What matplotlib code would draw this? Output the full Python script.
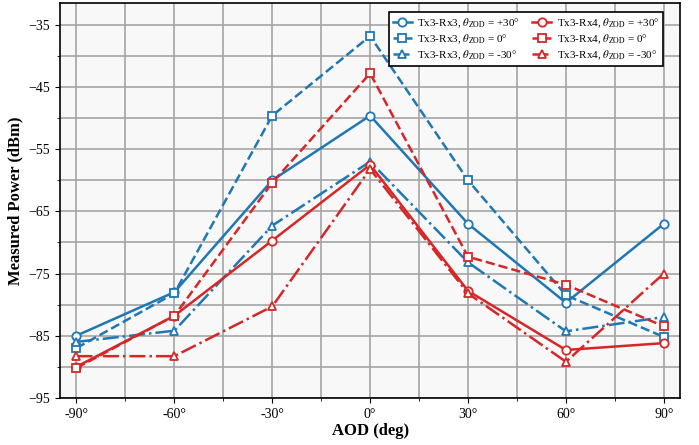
import matplotlib
matplotlib.use("Agg")
import matplotlib.pyplot as plt
from matplotlib.ticker import MultipleLocator

plt.rcParams['font.family'] = ['Liberation Serif', 'DejaVu Serif']
plt.rcParams['mathtext.fontset'] = 'stix'

aod = [-90, -60, -30, 0, 30, 60, 90]
rx3_p30 = [-85.0, -78.0, -60.0, -49.6, -67.0, -79.7, -67.0]
rx3_0 = [-87.0, -78.2, -49.6, -36.8, -60.0, -78.5, -85.2]
rx3_m30 = [-86.0, -84.2, -67.3, -57.0, -73.2, -84.3, -82.0]
rx4_p30 = [-90.0, -81.8, -69.7, -57.5, -77.8, -87.3, -86.2]
rx4_0 = [-90.2, -81.8, -60.4, -42.8, -72.3, -76.8, -83.5]
rx4_m30 = [-88.3, -88.3, -80.3, -58.2, -78.2, -89.2, -75.0]

xtick_vals = [-90, -60, -30, 0, 30, 60, 90]
xtick_labels = ['-90°', '-60°', '-30°', '0°', '30°', '60°', '90°']

blue = '#1f77b4'
red = '#d62728'

fig = plt.figure(figsize=(6.99, 4.45), dpi=100)
ax = fig.add_axes([0.086, 0.106, 0.887, 0.887])
ax.set_facecolor('#f8f8f8')

series = [
    (rx3_p30, blue, '-', 'o', r'Tx3-Rx3, $\theta_{\mathrm{ZOD}}$ = +30°'),
    (rx3_0, blue, '--', 's', r'Tx3-Rx3, $\theta_{\mathrm{ZOD}}$ = 0°'),
    (rx3_m30, blue, '-.', '^', r'Tx3-Rx3, $\theta_{\mathrm{ZOD}}$ = -30°'),
    (rx4_p30, red, '-', 'o', r'Tx3-Rx4, $\theta_{\mathrm{ZOD}}$ = +30°'),
    (rx4_0, red, '--', 's', r'Tx3-Rx4, $\theta_{\mathrm{ZOD}}$ = 0°'),
    (rx4_m30, red, '-.', '^', r'Tx3-Rx4, $\theta_{\mathrm{ZOD}}$ = -30°'),
]
for vals, c, ls, mk, lab in series:
    ax.plot(aod, vals, color=c, linestyle=ls, marker=mk, markersize=6,
            markerfacecolor='white', markeredgewidth=1.3, linewidth=1.8,
            label=lab, zorder=3)

ax.set_xlim(-95, 95)
ax.set_ylim(-95, -31.5)
ax.set_xticks(xtick_vals)
ax.set_xticklabels(xtick_labels)
ax.xaxis.set_minor_locator(MultipleLocator(15))
ax.set_yticks([-95, -85, -75, -65, -55, -45, -35])
ax.yaxis.set_minor_locator(MultipleLocator(5))
ax.grid(True, which='both', color='#a4a4a4', linewidth=1.2, zorder=0)
ax.set_axisbelow(True)
ax.tick_params(labelsize=10)
for s in ax.spines.values():
    s.set_linewidth(1.2)

ax.set_xlabel('AOD (deg)', fontsize=12, fontweight='bold', labelpad=2)
ax.set_ylabel('Measured Power (dBm)', fontsize=12, fontweight='bold')

leg = ax.legend(ncol=2, loc='upper right', bbox_to_anchor=(0.973, 0.977),
                borderaxespad=0, fontsize=8, frameon=True,
                fancybox=False, edgecolor='black', framealpha=1,
                handlelength=1.7, handletextpad=0.5, columnspacing=1.1,
                labelspacing=0.25, borderpad=0.35)
leg.get_frame().set_linewidth(1.2)

fig.savefig('out.png', dpi=100)
